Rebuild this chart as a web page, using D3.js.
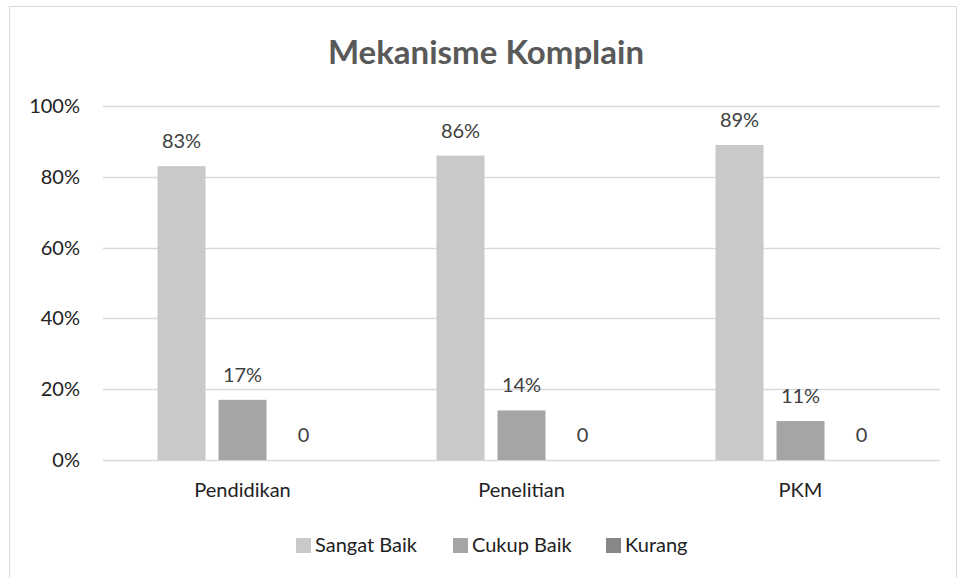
<!DOCTYPE html>
<html>
<head>
<meta charset="utf-8">
<script src="https://cdn.jsdelivr.net/npm/d3@7"></script>
<style>
  body { margin: 0; background: #fff; }
  text { font-family: Lato, "Open Sans", sans-serif; }
</style>
</head>
<body>
<div id="viz"></div>
<script>
// data
var categories = ["Pendidikan", "Penelitian", "PKM"];
var seriesNames = ["Sangat Baik", "Cukup Baik", "Kurang"];
var sangatBaik = [0.83, 0.86, 0.89];
var cukupBaik = [0.17, 0.14, 0.11];
var kurang = [0, 0, 0];
var labelsSangat = ["83%", "86%", "89%"];
var labelsCukup = ["17%", "14%", "11%"];
var labelsKurang = ["0", "0", "0"];
var yTicks = [0, 0.2, 0.4, 0.6, 0.8, 1.0];
var colors = ["#c9c9c9", "#a5a5a5", "#878787"];

var W = 959, H = 578;
var margin = {top: 106, right: 19, bottom: 118, left: 103};
var width = W - margin.left - margin.right,
    height = H - margin.top - margin.bottom;
var fs = 20;

var svg = d3.select("#viz").append("svg")
  .attr("width", W).attr("height", H);

// chart frame
svg.append("rect")
  .attr("x", 9.5).attr("y", 6.5)
  .attr("width", W - 12).attr("height", H - 4)
  .attr("fill", "none").attr("stroke", "#d9d9d9");

// title
svg.append("text")
  .attr("x", 486).attr("y", 64)
  .attr("text-anchor", "middle")
  .attr("font-size", 33).attr("font-weight", "bold")
  .attr("fill", "#595959")
  .text("Mekanisme Komplain");

var g = svg.append("g")
  .attr("transform", "translate(" + margin.left + "," + margin.top + ")");

var x0 = d3.scaleBand().domain(categories).range([0, width]);
var x1 = d3.scaleBand().domain(seriesNames).range([0, 170]).paddingInner(0.213);
var y = d3.scaleLinear().domain([0, 1]).range([height, 0]);

// gridlines
g.append("g")
  .selectAll("line").data(yTicks).enter().append("line")
  .attr("x1", 0).attr("x2", width)
  .attr("y1", d => Math.round(y(d)) + 0.5).attr("y2", d => Math.round(y(d)) + 0.5)
  .attr("stroke", "#d9d9d9").attr("stroke-width", 1.3);

// y axis
var yAxis = d3.axisLeft(y).tickValues(yTicks).tickFormat(d3.format(".0%")).tickSize(0).tickPadding(23);
g.append("g").call(yAxis)
  .call(a => a.select(".domain").remove())
  .selectAll("text").attr("font-size", fs).attr("fill", "#222")
  .style("font-family", "Lato, sans-serif");

// x axis labels
var xAxis = d3.axisBottom(x0).tickSize(0).tickPadding(23);
g.append("g").attr("transform", "translate(0," + height + ")").call(xAxis)
  .call(a => a.select(".domain").remove())
  .selectAll("text").attr("font-size", fs).attr("fill", "#222")
  .style("font-family", "Lato, sans-serif");

var rows = categories.map((c, i) => ({
  cat: c,
  vals: [
    {s: seriesNames[0], v: sangatBaik[i], l: labelsSangat[i]},
    {s: seriesNames[1], v: cukupBaik[i], l: labelsCukup[i]},
    {s: seriesNames[2], v: kurang[i], l: labelsKurang[i]}
  ]
}));

var groups = g.selectAll(".grp").data(rows).enter().append("g")
  .attr("class", "grp")
  .attr("transform", d => "translate(" + (x0(d.cat) + x0.bandwidth() / 2 - 85) + ",0)");

groups.selectAll("rect").data(d => d.vals).enter().append("rect")
  .attr("x", d => x1(d.s)).attr("width", x1.bandwidth())
  .attr("y", d => y(d.v)).attr("height", d => height - y(d.v))
  .attr("fill", (d, i) => colors[i]);

groups.selectAll(".lbl").data(d => d.vals).enter().append("text")
  .attr("class", "lbl")
  .attr("x", d => x1(d.s) + x1.bandwidth() / 2)
  .attr("y", d => y(d.v) - 18)
  .attr("text-anchor", "middle")
  .attr("font-size", fs).attr("fill", "#404040")
  .text(d => d.l);

// legend
var legendX = [296, 453, 606];
var leg = svg.append("g").selectAll("g").data(seriesNames).enter().append("g")
  .attr("transform", (d, i) => "translate(" + legendX[i] + ",538)");
leg.append("rect").attr("width", 15).attr("height", 15)
  .attr("fill", (d, i) => colors[i]);
leg.append("text").attr("x", 19).attr("y", 14)
  .attr("font-size", fs).attr("fill", "#222")
  .text(d => d);
</script>
</body>
</html>
